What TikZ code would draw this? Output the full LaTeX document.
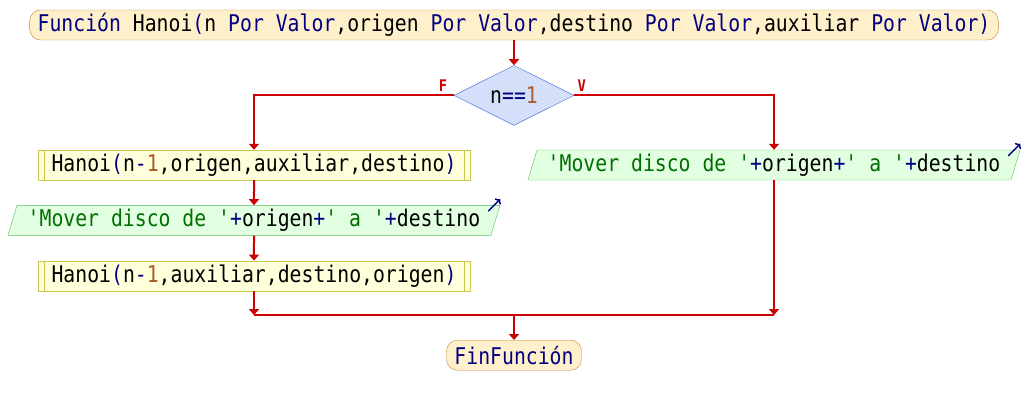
\documentclass[tikz,border=0pt]{standalone}
\usepackage{fontspec}
\setmonofont[FakeStretch=0.86]{DejaVu Sans Mono}
\usepackage{tikz}
\usetikzlibrary{positioning,arrows.meta}
\usetikzlibrary{shapes.geometric}
\definecolor{flowred}{RGB}{204,0,0}
\definecolor{kwblue}{RGB}{0,0,128}
\definecolor{numbrown}{RGB}{170,90,40}
\definecolor{strgreen}{RGB}{0,110,0}
\definecolor{termfill}{RGB}{255,240,204}
\definecolor{termdraw}{RGB}{200,130,50}
\definecolor{callfill}{RGB}{255,255,220}
\definecolor{calldraw}{RGB}{200,200,80}
\definecolor{outfill}{RGB}{226,255,226}
\definecolor{outdraw}{RGB}{90,190,90}
\definecolor{condfill}{RGB}{212,224,250}
\definecolor{conddraw}{RGB}{70,100,210}
\newcommand{\kw}[1]{\textcolor{kwblue}{#1}}
\newcommand{\nm}[1]{\textcolor{numbrown}{#1}}
\newcommand{\strg}[1]{\textcolor{strgreen}{#1}}

\begin{document}
\begin{tikzpicture}[
        x=1pt, y=-1pt,
        >={Triangle[width=10pt,length=6pt]},
        node distance=25pt,
        font=\ttfamily\fontsize{23}{27}\selectfont,
        term/.style={draw=termdraw, fill=termfill, rounded corners=11pt, minimum height=30pt, inner xsep=8pt, inner ysep=0pt},
        call/.style={draw=calldraw, fill=callfill, minimum width=432pt, minimum height=30pt, inner sep=0pt},
        io/.style={trapezium, trapezium left angle=68, trapezium right angle=112, trapezium stretches body, draw=outdraw, fill=outfill, minimum width=492pt, minimum height=30pt, inner sep=0pt},
        cond/.style={diamond, aspect=2, draw=conddraw, fill=condfill, minimum width=120pt, minimum height=60pt, inner sep=0pt},
        flow/.style={draw=flowred, line width=2pt},
        lbl/.style={text=flowred, font=\ttfamily\bfseries\fontsize{16}{18}\selectfont}
    ]
      \useasboundingbox[fill=white] (0,0) rectangle (1028,405);

      \node[term] (start) at (514,25) {\kw{Función} Hanoi\kw{(}n \kw{Por Valor},origen \kw{Por Valor},destino \kw{Por Valor},auxiliar \kw{Por Valor}\kw{)}};
      \node[cond, below=of start] (d) {n\kw{==}\nm{1}};
      \node[lbl, anchor=south east] (f) at ([xshift=-3pt]d.west) {F};
      \node[lbl, anchor=south west] (v) at (d.east) {V};

      \node[call] (h1) at (254,165) {Hanoi\kw{(}n\kw{-}\nm{1},origen,auxiliar,destino\kw{)}};
      \node[io, below=of h1] (m1) {\strg{'Mover disco de '}\kw{+}origen\kw{+}\strg{' a '}\kw{+}destino};
      \node[call, below=of m1] (h2) {Hanoi\kw{(}n\kw{-}\nm{1},auxiliar,destino,origen\kw{)}};
      \node[io] (m2) at (774,165) {\strg{'Mover disco de '}\kw{+}origen\kw{+}\strg{' a '}\kw{+}destino};

      \coordinate (j) at (514,315);
      \coordinate (jl) at (h2 |- j);
      \coordinate (jr) at (m2 |- j);
      \node[term, below=of j] (fin) {\kw{FinFunción}};

      \foreach \c in {h1,h2}
        \draw[calldraw] ([xshift=6pt]\c.north west) -- ([xshift=6pt]\c.south west)
                        ([xshift=-6pt]\c.north east) -- ([xshift=-6pt]\c.south east);
      \foreach \m in {m1,m2}
        \draw[kwblue, line width=1.5pt, -{To[length=4pt]}] ([shift={(-12pt,-6pt)}]\m.top right corner) -- ++(12pt,12pt);

      \draw[flow,->] (start) -- (d);
      \draw[flow,->] (d.west) -| (h1.north);
      \draw[flow,->] (d.east) -| (m2.north);
      \draw[flow,->] (h1) -- (m1);
      \draw[flow,->] (m1) -- (h2);
      \draw[flow,->] (h2) -- (jl);
      \draw[flow,->] (m2) -- (jr);
      \draw[flow] (jl) -- (jr);
      \draw[flow,->] (j) -- (fin);
    \end{tikzpicture}
\end{document}
